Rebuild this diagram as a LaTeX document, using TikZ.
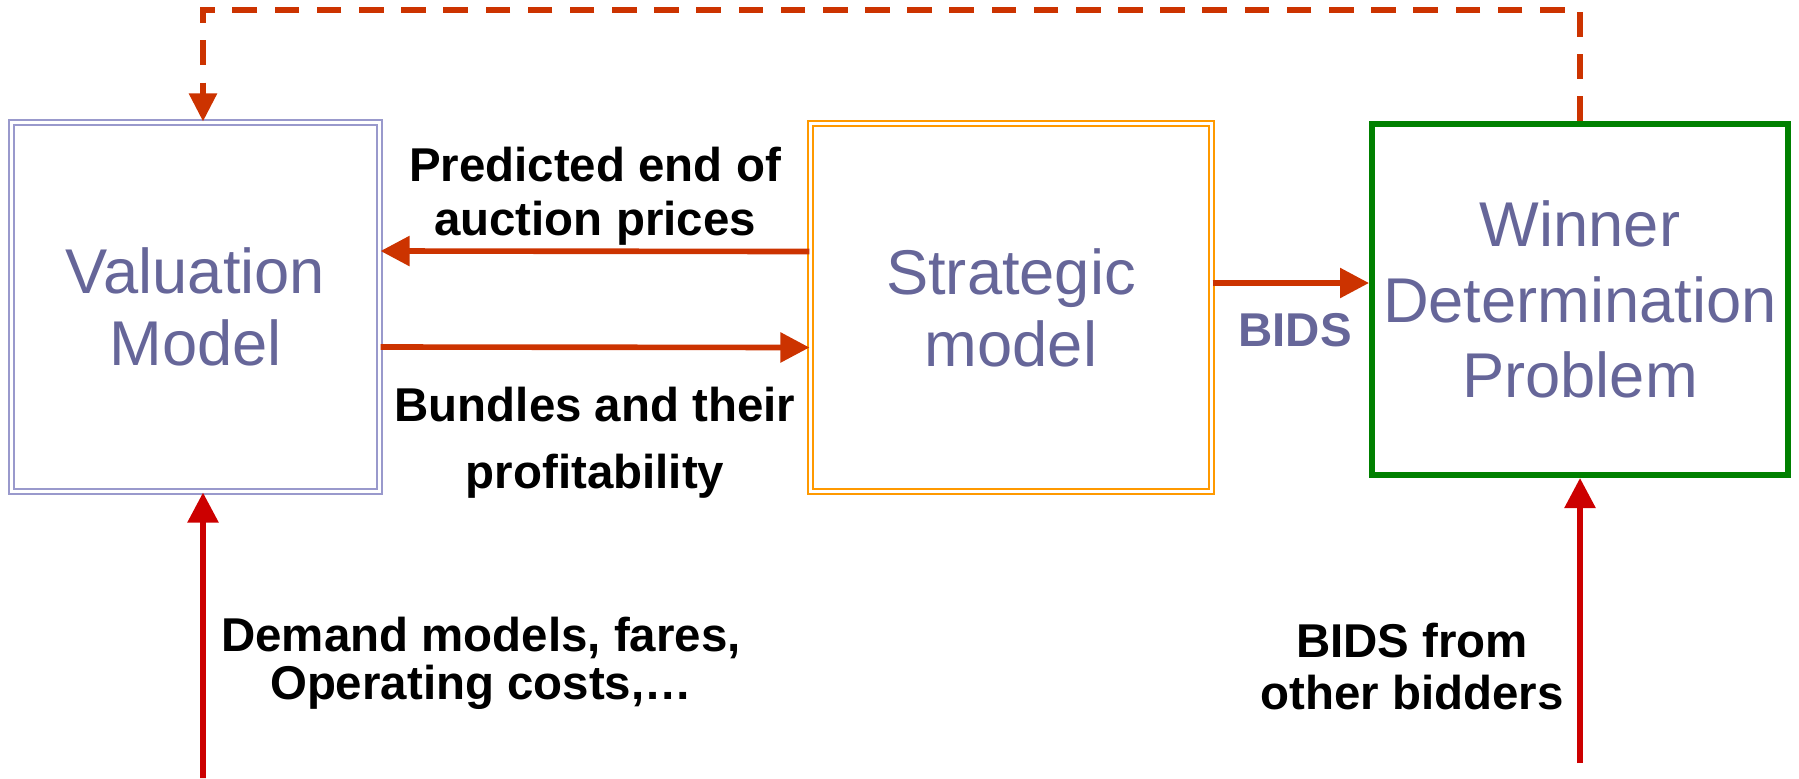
\documentclass[tikz,border=0pt]{standalone}
\usepackage{fontspec}
\setmainfont{Liberation Sans}
\usepackage{xcolor}
\usetikzlibrary{arrows.meta, positioning}

\definecolor{boxtext}{RGB}{102,102,153}
\definecolor{valborder}{RGB}{153,153,204}
\definecolor{stratborder}{RGB}{255,153,0}
\definecolor{wdpgreen}{RGB}{0,128,0}
\definecolor{flowred}{RGB}{204,51,0}
\definecolor{inputred}{RGB}{204,0,0}

\begin{document}
\begin{tikzpicture}[
    model/.style={align=center, text=boxtext, inner sep=0pt,
      font=\fontsize{18}{20.5}\selectfont},
    twin/.style={double=white, double distance=0.85pt, line width=0.6pt},
    txtlabel/.style={align=center, inner sep=0pt, font=\bfseries\fontsize{13.5}{15.4}\selectfont},
    flow/.style={-{Triangle[length=2.9mm,width=2.9mm]}, flowred, line width=1.6pt},
    feed/.style={-{Triangle[length=3mm,width=3mm]}, inputred, line width=1.6pt},
    back/.style={-{Triangle[length=2.8mm,width=2.7mm]}, flowred, line width=1.6pt,
      dash pattern=on 7pt off 5pt}
  ]
  \useasboundingbox (0,0) rectangle (17.99,7.78);

  %% Os tres modelos
  \node [model, twin, draw=valborder, minimum width=3.68cm, minimum height=3.69cm]
    (val) at (1.955,4.71) {Valuation\\Model};
  \node [model, twin, draw=stratborder, minimum width=4.01cm, minimum height=3.68cm]
    (strat) at (10.11,4.705) {Strategic\\model};
  \node [model, draw=wdpgreen, line width=1.7pt, minimum width=4.16cm, minimum height=3.51cm,
    font=\fontsize{18}{21.5}\selectfont]
    (win) at (15.80,4.785) {Winner\\Determination\\Problem};

  %% Fluxos entre os modelos
  \draw [flow] ([yshift=5.6mm]strat.west) -- ([yshift=5.6mm]val.east);
  \node [txtlabel] (prices) at (5.95,5.82) {Predicted end of\\auction prices};

  \draw [flow] ([yshift=-4mm]val.east) -- ([yshift=-4mm]strat.west);
  \node [txtlabel, font=\bfseries\fontsize{13.5}{19}\selectfont]
    (bundles) at (5.95,3.35) {Bundles and their\\profitability};

  \draw [flow] ([yshift=2.45mm]strat.east) coordinate (bidsout) -- (bidsout -| win.west);
  \node [txtlabel, text=boxtext] (bids) at (12.95,4.48) {BIDS};

  %% Retorno tracejado
  \draw [back] (win.north) -- ++(0,1.11) -| ([xshift=0.75mm]val.north);

  %% Entradas externas
  \coordinate (demin) at (2.03,0);
  \draw [feed] (demin) -- ([xshift=0.75mm]val.south);
  \node [txtlabel, font=\bfseries\fontsize{13.5}{13.6}\selectfont]
    (demand) at (4.81,1.15) {Demand models, fares,\\Operating costs,\dots};

  \coordinate (othin) at (15.80,0.15);
  \draw [feed] (othin) -- (win.south);
  \node [txtlabel, font=\bfseries\fontsize{13.5}{15}\selectfont]
    (others) at (14.12,1.115) {BIDS from\\other bidders};
\end{tikzpicture}
\end{document}
